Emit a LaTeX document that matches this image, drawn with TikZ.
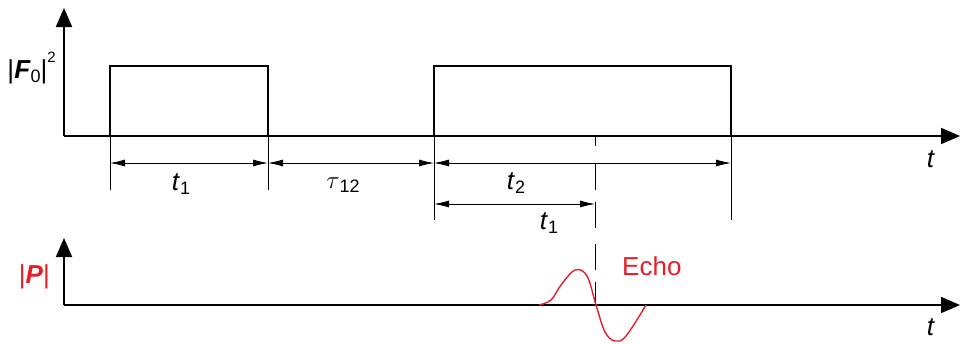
\documentclass[tikz,border=0pt]{standalone}
\usepackage{fontspec}
\setmainfont{Liberation Sans}
\usetikzlibrary{arrows.meta}
\definecolor{echored}{RGB}{230,30,40}
\begin{document}
\begin{tikzpicture}[x=1pt,y=-1pt,
  axis/.style={line width=1.8pt,-{Triangle[length=19pt,width=16pt]}},
  pulse/.style={line width=1.6pt},
  dim/.style={line width=0.8pt,{Latex[length=15pt,width=7pt]}-{Latex[length=15pt,width=7pt]}},
  ext/.style={line width=0.8pt},
  lbl/.style={font=\fontsize{26}{30}\selectfont,inner sep=0pt}]
\useasboundingbox (0,0) rectangle (960,343);
% coordinates
\coordinate (o1) at (64,136);
\coordinate (y1) at (64,8);
\coordinate (x1) at (960,136);
\coordinate (o2) at (64,305);
\coordinate (y2) at (64,238);
\coordinate (x2) at (960,305);
% top axes
\draw[axis] (o1) -- (y1);
\draw[axis] (o1) -- (x1);
% pulses
\draw[pulse] (110,136) -- (110,66) -- (268,66) -- (268,136);
\draw[pulse] (434,136) -- (434,66) -- (731,66) -- (731,136);
% extension lines
\coordinate (a) at (110,136); \coordinate (a') at (110,190);
\coordinate (b) at (268,136); \coordinate (b') at (268,190);
\coordinate (c) at (434,136); \coordinate (c') at (434,220);
\coordinate (d) at (731,136); \coordinate (d') at (731,220);
\draw[ext] (a) -- (a');
\draw[ext] (b) -- (b');
\draw[ext] (c) -- (c');
\draw[ext] (d) -- (d');
% dimension arrows
\coordinate (ad) at (110,163); \coordinate (bd) at (268,163);
\coordinate (cd) at (434,163); \coordinate (dd) at (731,163);
\coordinate (ce) at (434,204); \coordinate (ee) at (595,204);
\draw[dim] (ad) -- (bd);
\draw[dim] (bd) -- (cd);
\draw[dim] (cd) -- (dd);
\draw[dim] (ce) -- (ee);
% dashed line
\coordinate (e) at (595,136); \coordinate (e') at (595,305);
\draw[ext,dash pattern=on 10pt off 18pt on 26pt off 12pt on 26pt off 16pt on 26pt off 12pt on 24pt off 22pt on 10pt] (e) -- (e');
% labels
\node[lbl] (lt1) at (181,184) {\textit{t}\raisebox{-0.35ex}{\fontsize{18}{20}\selectfont 1}};
\node[lbl] (ltau) at (343,185) {$\tau$\raisebox{-0.3ex}{\fontsize{18}{20}\selectfont 12}};
\node[lbl] (lt2) at (516,183) {\textit{t}\raisebox{-0.35ex}{\fontsize{18}{20}\selectfont 2}};
\node[lbl] (lt1b) at (549,223) {\textit{t}\raisebox{-0.35ex}{\fontsize{18}{20}\selectfont 1}};
\node[lbl] (lt) at (931,159) {\textit{t}};
\node[lbl] (ltb) at (931,327) {\textit{t}};
\node[lbl,anchor=east] (lF) at (56,68) {|\textbf{\textit{F}}\raisebox{-0.3ex}{\fontsize{18}{20}\selectfont 0}|\raisebox{1.1ex}{\fontsize{15}{18}\selectfont 2}};
% bottom axes
\draw[axis] (o2) -- (y2);
\draw[axis] (o2) -- (x2);
\node[lbl,text=echored,anchor=east] (lP) at (50,277) {|\textbf{\textit{P}}|};
\node[lbl,text=echored,anchor=west] (echo) at (622,266) {Echo};
% echo wave
\draw[echored,line width=1.4pt] plot[smooth,tension=0.6] coordinates {(539,305) (551,300) (561,285) (575,270) (587,276) (596,305) (605,332) (615,341) (626,336) (646,305)};
\end{tikzpicture}
\end{document}
